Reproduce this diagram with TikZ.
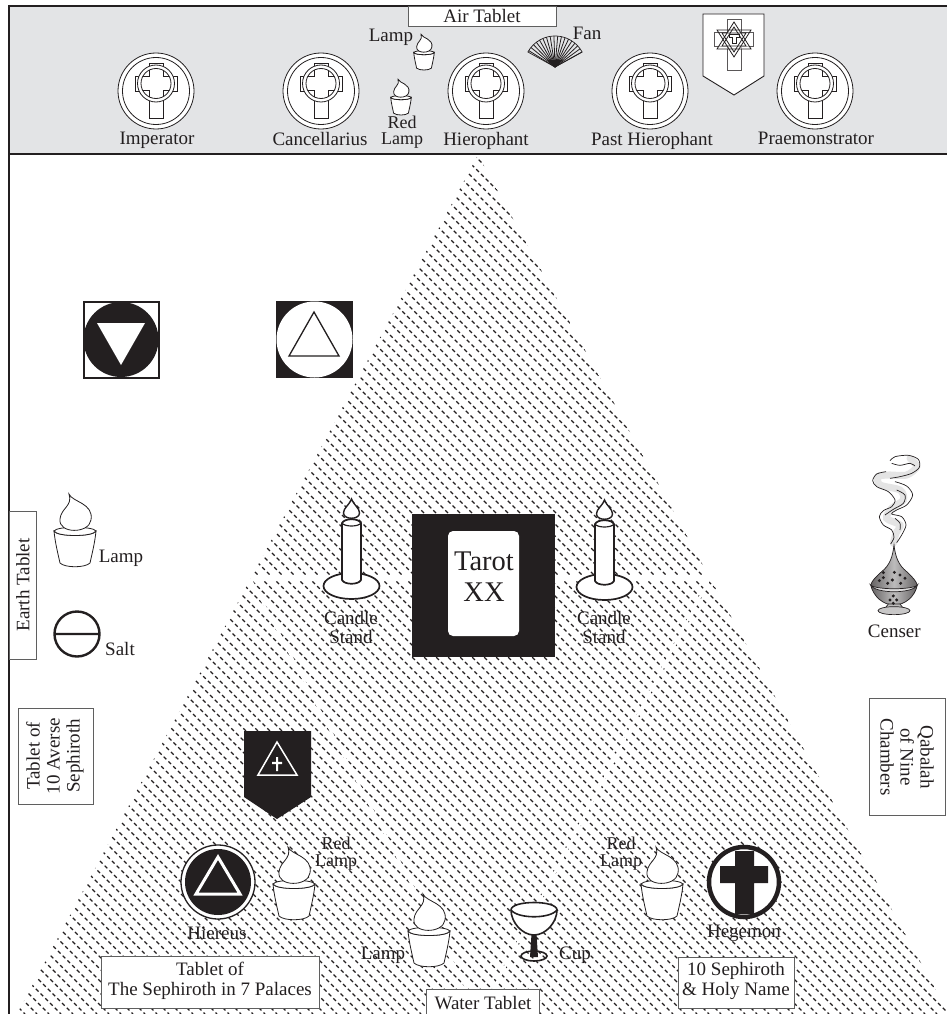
\documentclass[tikz,border=0pt]{standalone}
\usepackage{fontspec}
\setmainfont{Liberation Serif}
\definecolor{ink}{HTML}{231F20}
\definecolor{band}{HTML}{E3E4E6}
\definecolor{edgegray}{HTML}{5F5F5F}
\tikzset{
  lbl/.style={inner sep=0pt,align=center,text=ink,font=\fontsize{19}{15.5}\selectfont},
  lblred/.style={lbl,font=\fontsize{18}{16.5}\selectfont},
  lblwide/.style={lbl,font=\fontsize{19}{20}\selectfont},
  tablet/.style={draw=edgegray,line width=0.9pt,fill=white},
  lamp/.pic={
    \draw[ink,line width=0.8pt,fill=white] (-21,1) .. controls (-20,12) and (-17,24) .. (-15,33) .. controls (-10,38) and (10,38) .. (15,33) .. controls (17,24) and (20,12) .. (21,1) .. controls (18,7) and (-18,7) .. (-21,1) -- cycle;
    \draw[ink,line width=0.8pt,fill=white] (-21,1) .. controls (-18,-4) and (18,-4) .. (21,1) .. controls (18,7) and (-18,7) .. (-21,1) -- cycle;
    \draw[ink,line width=0.8pt,fill=white] (-6,-36) .. controls (-3,-28) and (19,-27) .. (16,-10) .. controls (14,4) and (-17,4) .. (-15,-11) .. controls (-14,-22) and (-2,-24) .. (-6,-36) -- cycle;
  },
  rondel/.pic={
    \draw[ink,line width=0.8pt,fill=white] (0,0) circle[radius=38];
    \draw[ink,line width=0.8pt] (0,0) circle[radius=33.5];
    \draw[ink,line width=0.8pt,fill=white] (-7,27) -- (-7,0) -- (-21,0) -- (-21,-15) -- (-7,-15) -- (-7,-28) -- (7,-28) -- (7,-15) -- (21,-15) -- (21,0) -- (7,0) -- (7,27) -- cycle;
    \draw[ink,line width=0.8pt,fill=white] (0,-7.5) circle[radius=18.5];
    \draw[ink,line width=0.8pt,fill=white] (0,-7.5) circle[radius=15];
    \begin{scope}
      \clip (0,-7.5) circle[radius=15];
      \draw[ink,line width=0.8pt] (-7,-28) -- (-7,-14.5) -- (-21,-14.5) (7,-28) -- (7,-14.5) -- (21,-14.5) (-7,20) -- (-7,-0.5) -- (-21,-0.5) (7,20) -- (7,-0.5) -- (21,-0.5);
    \end{scope}
  },
  candle/.pic={
    \draw[ink,line width=1.7pt,fill=white] (0,0) ellipse[x radius=28,y radius=13];
    \draw[ink,line width=1.7pt,fill=white] (-9.5,-63) -- (-9.5,-6) .. controls (-7,-1) and (7,-1) .. (9.5,-6) -- (9.5,-63) .. controls (7,-68) and (-7,-68) .. (-9.5,-63) -- cycle;
    \draw[ink,line width=1.2pt] (-9.5,-63) .. controls (-7,-59) and (7,-59) .. (9.5,-63);
    \draw[ink,line width=1.2pt] (0,-66) -- (0,-70);
    \draw[ink,line width=1.4pt,fill=white] (0,-87) .. controls (3,-80) and (8,-78) .. (8,-73) .. controls (8,-66) and (-8,-66) .. (-8,-73) .. controls (-8,-78) and (-3,-80) .. (0,-87) -- cycle;
  }
}
\begin{document}
\begin{tikzpicture}[x=1pt,y=-1pt]
\useasboundingbox (0,0) rectangle (947,1014);
\fill[white] (0,0) rectangle (947,1014);
% hatched triangle
\begin{scope}
  \clip (478,155) -- (949,1014) -- (17,1014) -- cycle;
  \foreach \xa in {-870,-858,...,960} {
    \draw[ink,line width=1.1pt,dash pattern=on 3.8pt off 2.9pt] (\xa,155) -- (\xa+859,1014);
  }
  \draw[white,line width=3.5pt] (240,578) -- (725,578);
  \draw[white,line width=2.2pt] (250,578) -- (480,1014) -- (710,578);
\end{scope}
% top band and frame
\fill[band] (9,6) rectangle (947,154);
\draw[ink,line width=1.8pt] (9,6) -- (947,6);
\draw[ink,line width=2.2pt] (9,154) -- (947,154);
\draw[ink,line width=2.2pt] (9,5) -- (9,1014);
% air tablet
\node[tablet,minimum width=148pt,minimum height=20pt,anchor=north west] (air) at (408,6) {};
\node[lbl] (airT) at (482,16) {Air Tablet};
% rondels
\pic at (156,91) {rondel};
\pic at (321,91) {rondel};
\pic at (486,91) {rondel};
\pic at (650,91) {rondel};
\pic at (815,91) {rondel};
\node[lbl] (imp) at (157,140) {Imperator};
\node[lbl] (can) at (320,139) {Cancellarius};
\node[lblred] (redtop) at (402,132) {Red\\Lamp};
\node[lbl] (hie) at (486,141) {Hierophant};
\node[lbl] (past) at (652,141) {Past Hierophant};
\node[lbl] (prae) at (816,138) {Praemonstrator};
\node[lbl] (lamptop) at (391,37) {Lamp};
\node[lbl] (fanl) at (587,33) {Fan};
% small lamps
\pic[scale=0.49] at (424,52) {lamp};
\pic[scale=0.49] at (401,97) {lamp};
% fan
\foreach \a in {29,36,...,152} {
  \draw[ink,line width=0.8pt] (555,67) -- ++({cos(\a)*31},{-sin(\a)*31});
}
\draw[ink,line width=0.7pt] (555,67) -- ++({cos(29)*31},{-sin(29)*31}) arc[start angle=-29,end angle=-151,radius=31] -- cycle;
\fill[ink] (555,67) -- ++(-8,-7) -- ++(16,0) -- cycle;
% shield
\draw[ink,line width=0.9pt,fill=white] (703,14) -- (764,14) -- (764,76) -- (734,95) -- (703,76) -- cycle;
\draw[ink!75,line width=0.8pt] (727,19) -- (741,19) -- (741,32) -- (753,32) -- (753,46) -- (741,46) -- (741,70) -- (727,70) -- (727,46) -- (714,46) -- (714,32) -- (727,32) -- cycle;
\draw[ink,line width=0.8pt,fill=white,fill opacity=0.6] (734,22) -- (751,49) -- (717,49) -- cycle;
\draw[ink,line width=0.8pt] (734,27) -- (746,46) -- (722,46) -- cycle;
\draw[ink,line width=0.8pt] (717,30) -- (751,30) -- (734,57) -- cycle;
\draw[ink,line width=0.8pt] (722,33) -- (746,33) -- (734,52) -- cycle;
\draw[ink,line width=1pt] (729,35) -- (739,35) -- (739,38) -- (736,38) -- (736,44) -- (732,44) -- (732,38) -- (729,38) -- cycle;
% upper squares
\draw[ink,line width=1.8pt,fill=white] (84,302) rectangle (159,378);
\fill[ink] (121,339.5) circle[radius=37.5];
\fill[white] (97,323) -- (145,323) -- (121,365) -- cycle;
\fill[ink] (276,301) rectangle (353,378);
\fill[white] (314.5,339.5) circle[radius=38];
\draw[ink,line width=1.3pt,line join=miter] (314,312) -- (339,356) -- (289,356) -- cycle;
% tarot
\fill[ink] (412,514) rectangle (555,657);
\fill[white,rounded corners=5pt] (448,531) rectangle (519,636);
\node[lbl,font=\fontsize{28.5}{31}\selectfont] (tarot) at (484,577) {Tarot\\XX};
% candles
\pic at (351.5,586) {candle};
\pic at (604.5,587) {candle};
\node[lblwide,font=\fontsize{19}{19}\selectfont] (cs1) at (351,627) {Candle\\Stand};
\node[lblwide,font=\fontsize{19}{19}\selectfont] (cs2) at (604,627) {Candle\\Stand};
% left column
\node[tablet,minimum width=27pt,minimum height=148pt,anchor=north west] (earth) at (9,511) {};
\node[lbl,rotate=90] (earthT) at (23,585) {Earth Tablet};
\pic at (75,530) {lamp};
\node[lbl] (lampE) at (121,558) {Lamp};
\draw[ink,line width=2.4pt] (77,634) circle[radius=22.5] (54.5,634) -- (99.5,634);
\node[lbl] (salt) at (120,649) {Salt};
\node[tablet,minimum width=75pt,minimum height=96pt,anchor=north west] (averse) at (18,708) {};
\node[lblwide,rotate=90] (averseT) at (55,756) {Tablet of\\10 Averse\\Sephiroth};
% censer
\begin{scope}[shift={(850,450)},x=0.3333pt,y=-0.3333pt]
  \draw[ink!12,line width=7pt,line cap=round] plot[smooth] coordinates {(130,280) (138,250) (150,225) (110,205) (125,175) (160,150) (150,120) (90,105) (85,80) (115,75) (170,75) (200,50) (180,25)};
  \draw[ink,line width=0.7pt] plot[smooth] coordinates {(120,32) (135,20) (175,16) (205,28) (208,52) (185,70) (150,80) (120,85)};
  \draw[ink,line width=0.7pt] plot[smooth] coordinates {(125,40) (150,46) (180,40) (195,48)};
  \draw[ink,line width=0.7pt] plot[smooth] coordinates {(108,65) (80,72) (68,92) (80,110) (115,125) (135,150) (125,170) (100,182) (88,200) (100,225) (125,240) (132,262) (122,282)};
  \draw[ink,line width=0.7pt] plot[smooth] coordinates {(135,95) (170,108) (188,135) (170,165) (140,180) (125,192) (155,200) (168,225) (155,255) (140,278)};
  \draw[ink,line width=0.7pt] plot[smooth] coordinates {(140,120) (165,135) (160,160) (130,178) (105,195)};
  \draw[ink,line width=0.7pt] plot[smooth] coordinates {(135,205) (150,220) (150,240)};
  \draw[ink,line width=0.7pt,left color=ink!70,right color=ink!70,middle color=ink!30] (132,285) .. controls (128,320) and (120,345) .. (95,365) .. controls (78,380) and (66,392) .. (62,405) .. controls (70,440) and (100,465) .. (132,465) .. controls (165,465) and (195,440) .. (202,405) .. controls (198,392) and (186,380) .. (170,365) .. controls (145,345) and (136,320) .. (132,285) -- cycle;
  \draw[ink,line width=0.7pt,fill=ink!30] (115,462) -- (150,462) -- (160,475) -- (105,475) -- cycle;
  \draw[ink,line width=0.7pt,fill=ink!25] (132,482) ellipse[x radius=48,y radius=12];
  \draw[ink,line width=0.7pt,fill=ink!15] (62,405) .. controls (75,432) and (190,432) .. (202,405) .. controls (190,420) and (75,420) .. (62,405) -- cycle;
  \foreach \p in {(100,368),(100,383),(88,392),(133,367),(127,390),(150,375),(165,385),(152,400),(113,400),(130,438),(120,450),(140,450),(130,460)}
    \fill[ink] \p circle[radius=5];
  \node[lbl] (censer) at (133,543) {Censer};
\end{scope}
% qabalah
\node[tablet,minimum width=76pt,minimum height=117pt,anchor=north west] (qab) at (869,698) {};
\node[lblwide,rotate=-90] (qabT) at (907,757) {Qabalah\\of Nine\\Chambers};
% banner
\fill[ink] (244,731) -- (311,731) -- (311,797) -- (277,819) -- (244,797) -- cycle;
\draw[white,line width=1.5pt] (277,742) -- (297,775) -- (258,775) -- cycle;
\fill[white] (276,757) rectangle (278.2,771) (272,761.8) rectangle (282.2,764);
% hiereus
\draw[ink,line width=1.3pt,fill=white] (218,882) circle[radius=37];
\fill[ink] (218,882) circle[radius=33];
\draw[white,line width=3pt] (218,857) -- (240,894) -- (196,894) -- cycle;
\node[lbl] (hiereus) at (217,933) {Hiereus};
% lamps in triangle
\pic at (294,883) {lamp};
\node[lblred] (redL) at (336,853.5) {Red\\Lamp};
\pic at (429,930) {lamp};
\node[lbl] (lampB) at (383,955) {Lamp};
\pic at (662,883) {lamp};
\node[lblred] (redR) at (621,853.5) {Red\\Lamp};
% cup
\draw[ink,line width=1.6pt] (534,956) ellipse[x radius=13,y radius=5];
\fill[ink] (531.5,934) -- (536.5,934) -- (538,957) -- (530,957) -- cycle;
\draw[ink,line width=1.6pt,fill=white] (511,910) .. controls (511,922) and (522,935) .. (534,935) .. controls (546,935) and (557,922) .. (557,910) .. controls (557,900) and (511,900) .. (511,910) -- cycle;
\draw[ink,line width=1.6pt] (511,910) .. controls (518,919) and (550,919) .. (557,910);
\node[lbl] (cupL) at (575,955) {Cup};
% hegemon
\draw[ink,line width=4.5pt,fill=white] (744,882) circle[radius=35];
\fill[ink] (735,851) rectangle (754,914) (720,866) rectangle (768,883);
\node[lbl] (hegemon) at (744,933) {Hegemon};
% bottom tablets
\node[tablet,minimum width=218pt,minimum height=52pt,anchor=north west] (seph) at (101,956) {};
\node[lblwide] (sephT) at (210,981) {Tablet of\\The Sephiroth in 7 Palaces};
\node[tablet,minimum width=113pt,minimum height=30pt,anchor=north west] (water) at (426,989) {};
\node[lbl] (waterT) at (483,1003) {Water Tablet};
\node[tablet,minimum width=116pt,minimum height=51pt,anchor=north west] (ten) at (678,957) {};
\node[lblwide] (tenT) at (736,981) {10 Sephiroth\\\& Holy Name};
\end{tikzpicture}
\end{document}
